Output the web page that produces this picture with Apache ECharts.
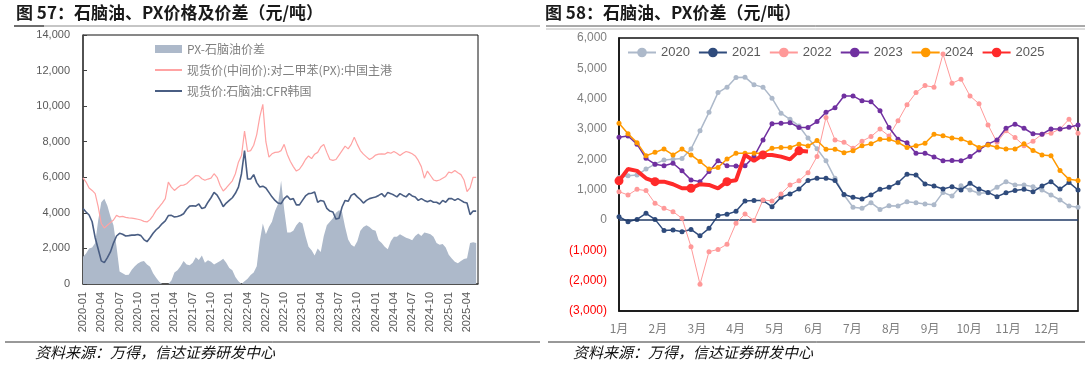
<!DOCTYPE html>
<html><head><meta charset="utf-8">
<script src="https://cdn.jsdelivr.net/npm/echarts@6/dist/echarts.min.js"></script>
<style>html,body{margin:0;padding:0;background:#fff}#c{width:1088px;height:366px}</style>
</head><body><div id="c"></div>
<script>
// ---------- Left chart: semi-monthly samples from 2020-01 (step = half month) ----------
const leftStartYear = 2020;
const leftStep = 0.5; // months per sample
const pxPrice = [5970,5730,5400,5260,5080,4330,3400,3150,3300,3450,
 3600,3860,3770,3800,3750,3720,3700,3680,3640,3600,
 3520,3490,3620,3850,4140,4330,4550,4800,5730,5450,
 5260,5410,5540,5560,5640,5800,5950,6100,6080,5920,
 5830,5900,5950,6200,6000,5540,5230,5400,5600,5800,
 6200,6850,7220,8600,7450,7500,7800,8400,9400,10100,
 8000,7130,7320,7400,7410,7500,7850,7300,6900,6600,
 6350,6450,6700,7000,7200,7050,7300,7400,7700,7850,
 7400,7000,6950,7000,7250,7500,7750,7600,7850,8250,
 7850,7500,7300,7150,7000,7100,7250,7300,7320,7300,
 7400,7350,7450,7350,7220,7350,7450,7400,7320,7200,
 6950,6600,5950,6350,6100,5850,5800,5850,5950,6050,
 6290,6250,6380,6250,6150,5850,5200,5400,6000,6000];
const naphthaPrice = [4240,4050,3880,3500,2600,1950,1300,1200,1480,1800,
 2300,2700,2850,2800,2700,2720,2750,2750,2780,2720,
 2500,2380,2600,2850,3050,3200,3400,3550,3850,3860,
 3770,3800,3850,3950,4200,4380,4400,4380,4500,4240,
 4300,4600,4850,5150,5000,4700,4350,4550,4700,4850,
 5100,5450,6200,7500,5900,5900,6150,5700,5450,5500,
 5400,5150,4900,4700,4550,4520,4800,4950,4750,4800,
 4450,4450,4700,4950,5080,5100,5170,4600,4700,4650,
 4250,4100,4050,3650,3700,4330,4700,4650,4980,5080,
 4900,4750,4550,4700,4800,4850,4890,4980,5080,4900,
 5150,5080,5000,4900,5080,4980,4900,5080,4950,4890,
 4700,4800,4700,4620,4700,4600,4600,4500,4700,4600,
 4800,4800,4700,4800,4700,4600,4550,3900,4100,4100];
const pxNaphthaSpread = [1530,1720,2000,2050,2300,3600,4600,4800,4400,3800,
 3300,2100,700,600,500,520,800,1000,1150,1250,
 1300,1100,970,600,350,130,0,0,0,200,
 650,780,1000,1300,1100,1060,1200,1500,1350,1600,
 1200,1340,1250,1100,1200,1300,1420,1200,900,780,
 400,150,0,150,300,500,650,1000,2400,3400,
 2800,3200,3500,4100,4500,5800,4200,2900,2900,3000,
 3300,3500,3400,2700,2100,1900,1600,2000,1800,2700,
 3300,3500,3700,4000,4150,4050,3200,2500,2200,2090,
 2400,3000,3200,3300,3200,3050,3000,2460,2300,2100,
 1950,2400,2650,2650,2800,2700,2600,2550,2460,2700,
 2840,2700,2900,2850,2800,2650,2300,2200,2250,2050,
 1650,1440,1250,1160,1300,1400,1450,2300,2350,2300];
const leftNames = ['PX-石脑油价差','现货价(中间价):对二甲苯(PX):中国主港','现货价:石脑油:CFR韩国'];

// ---------- Right chart: weekly spreads by year ----------
const weeks = Array.from({length:52},(_,i)=>'W'+(i+1));
const monthLabels = ['1月','2月','3月','4月','5月','6月','7月','8月','9月','10月','11月','12月'];
const yearNames = ['2020','2021','2022','2023','2024','2025'];
const s2020 = [1400,1460,1480,1680,1840,1980,2000,2030,2340,2940,3550,4200,4380,4700,4710,4455,4380,4015,3520,3320,3100,2700,2350,1950,1375,825,420,385,570,350,470,460,605,570,530,505,910,790,1130,990,880,900,1080,1265,1155,1155,1100,990,825,660,460,420];
const s2021 = [110,-55,20,220,20,-350,-330,-385,-310,-520,-275,145,190,285,630,640,640,440,750,860,1020,1300,1375,1375,1300,840,750,690,825,1010,1080,1230,1510,1485,1190,1120,1020,1100,990,1210,1020,910,770,900,970,1010,935,1120,1265,1020,1240,990];
const s2022 = [935,825,1010,970,550,385,275,55,-880,-2120,-1045,-970,-800,-110,200,-20,660,630,860,1155,1290,1560,2090,3380,2640,2560,2365,2600,2750,3000,2770,3270,3800,4200,4430,4380,5470,4510,4640,4090,3830,3135,2560,2940,2720,2450,2600,2830,2860,3000,3320,2860];
const s2023 = [2730,2770,2500,2035,1840,1790,1870,1620,1320,1265,1595,1950,1790,1780,1790,2090,2640,3170,3190,3210,3050,3050,3245,3550,3700,4090,4090,3930,3900,3600,3050,2660,2550,2200,2200,2080,1950,1960,1950,2090,2310,2500,2640,3025,3160,3025,2840,2830,3000,3000,3060,3135];
const s2024 = [3190,2840,2550,2120,2230,2340,2145,2340,2145,1925,1680,1730,2010,2200,2200,2200,2200,2365,2390,2390,2500,2440,2620,2330,2330,2220,2280,2450,2510,2660,2660,2560,2390,2450,2530,2830,2780,2700,2670,2550,2390,2475,2400,2340,2340,2510,2290,2145,2120,1630,1340,1300];
const s2025 = [1290,1680,1620,1375,1265,1265,1180,1045,1045,1180,1155,1045,1265,1310,2145,1950,2145,2145,2090,2000,2280,2255];

const fmt = v => Math.abs(v).toLocaleString('en-US');
const toXY = arr => arr.map((v,i)=>[i*leftStep, v]);
const CJK = '"Noto Sans CJK SC", sans-serif';
const NUM = '"Liberation Sans", Arial, sans-serif';
const LINE_ICON = 'path://M0,0 L40,0 L40,3 L0,3 Z';

const chart = echarts.init(document.getElementById('c'), null, {renderer:'canvas'});
const yearColors = ['#ADB9CA','#2F4B7C','#FF9999','#7030A0','#FF9900','#FF2A2A'];
const yearData = [s2020,s2021,s2022,s2023,s2024,s2025];

const rightSeries = yearNames.map((n,k)=>({
  name:n, type:'line', xAxisIndex:1, yAxisIndex:1, data:yearData[k],
  symbol:'circle', symbolSize: k===5?9:5, showSymbol:true,
  lineStyle:{color:yearColors[k], width: k===5?4:(k===2?1:1.5)},
  itemStyle:{color:yearColors[k]}, z: 3+k, animation:false,
  markLine: k===0 ? {silent:true, symbol:'none', label:{show:false},
    lineStyle:{color:'#1F3864', width:1.5, type:'solid'}, data:[{yAxis:0}], animation:false} : undefined
}));

chart.setOption({
  animation:false,
  textStyle:{fontFamily:NUM},
  grid:[
    {left:83, top:35, width:395, height:249, show:true, borderColor:'#111', borderWidth:1},
    {left:619, top:38, width:459, height:273, show:true, borderColor:'#111', borderWidth:1.5}
  ],
  legend:[
    {left:150, top:38, orient:'vertical', itemGap:9, itemWidth:27, itemHeight:8,
     textStyle:{color:'#808080', fontSize:12, fontFamily:CJK},
     data:[{name:leftNames[0], icon:'rect'}, {name:leftNames[1], icon:LINE_ICON}, {name:leftNames[2], icon:LINE_ICON}]},
    {left:622, top:41, orient:'horizontal', itemGap:8, itemWidth:28, itemHeight:12,
     textStyle:{color:'#595959', fontSize:13, fontFamily:NUM},
     data:yearNames}
  ],
  xAxis:[
    {gridIndex:0, type:'value', position:'bottom', min:0, max:64.8, interval:3,
     axisLine:{onZero:false, lineStyle:{color:'#404040', width:1.5}},
     axisTick:{show:true, inside:true, length:4, lineStyle:{color:'#404040'}},
     splitLine:{show:false},
     axisLabel:{rotate:90, fontSize:11, color:'#595959', margin:8, showMaxLabel:false,
       formatter:v=>{ if(!Number.isInteger(v)) return ''; const y=leftStartYear+Math.floor(v/12); const m=v%12+1; return y+'-'+(m<10?'0':'')+m; }}},
    {gridIndex:1, type:'category', position:'bottom', data:weeks, boundaryGap:false, show:false},
    {gridIndex:1, type:'value', position:'bottom', min:0, max:11.8, interval:1,
     axisLine:{onZero:false, lineStyle:{color:'#111', width:1.5}},
     axisTick:{show:false}, splitLine:{show:false},
     axisLabel:{fontSize:12, color:'#7F7F7F', margin:11, fontFamily:CJK, showMaxLabel:false,
       formatter:v=> Number.isInteger(v) && v<12 ? monthLabels[v] : ''}}
  ],
  yAxis:[
    {gridIndex:0, type:'value', min:0, max:14000, interval:2000,
     axisLine:{show:true, lineStyle:{color:'#404040', width:1.5}},
     axisTick:{show:true, inside:true, length:4, lineStyle:{color:'#404040'}},
     splitLine:{show:false},
     axisLabel:{fontSize:11, color:'#595959', margin:13, formatter:v=>fmt(v)}},
    {gridIndex:1, type:'value', min:-3000, max:6000, interval:1000,
     axisLine:{show:true, onZero:false, lineStyle:{color:'#111', width:1.5}},
     axisTick:{show:false}, splitLine:{show:false},
     axisLabel:{fontSize:12, margin:12,
       color:v=> Number(v)<0 ? '#FF0000' : '#7F7F7F',
       formatter:v=> v<0 ? '('+fmt(v)+')' : fmt(v)}}
  ],
  series:[
    {name:leftNames[0], type:'line', xAxisIndex:0, yAxisIndex:0, data:toXY(pxNaphthaSpread),
     symbol:'none', lineStyle:{width:0, color:'#ADB9CA'}, itemStyle:{color:'#ADB9CA'},
     areaStyle:{color:'#ADB9CA', opacity:1}, z:1},
    {name:leftNames[1], type:'line', xAxisIndex:0, yAxisIndex:0, data:toXY(pxPrice),
     symbol:'none', lineStyle:{width:1.2, color:'#FFA3A3'}, itemStyle:{color:'#FFA3A3'}, z:2},
    {name:leftNames[2], type:'line', xAxisIndex:0, yAxisIndex:0, data:toXY(naphthaPrice),
     symbol:'none', lineStyle:{width:1.6, color:'#4A5E83'}, itemStyle:{color:'#4A5E83'}, z:3},
    ...rightSeries
  ],
  graphic:[
    {type:'text', left:16, top:4, style:{text:'图 57：石脑油、PX价格及价差（元/吨）', font:'bold 17px '+CJK, fill:'#1a1a1a'}},
    {type:'text', left:545, top:4, style:{text:'图 58：石脑油、PX价差（元/吨）', font:'bold 17px '+CJK, fill:'#1a1a1a'}},
    {type:'line', shape:{x1:14,y1:26,x2:540,y2:26}, style:{stroke:'#8c8c8c', lineWidth:1}},
    {type:'line', shape:{x1:14,y1:26,x2:44,y2:26}, style:{stroke:'#333', lineWidth:1.2}},
    {type:'line', shape:{x1:546,y1:26,x2:1085,y2:26}, style:{stroke:'#555', lineWidth:1}},
    {type:'line', shape:{x1:546,y1:29,x2:1085,y2:29}, style:{stroke:'#bbb', lineWidth:1}},
    {type:'line', shape:{x1:5,y1:342,x2:540,y2:342}, style:{stroke:'#333', lineWidth:1}},
    {type:'line', shape:{x1:548,y1:342,x2:1085,y2:342}, style:{stroke:'#333', lineWidth:1}},
    {type:'text', left:35, top:345, style:{text:'资料来源：万得，信达证券研发中心', font:'italic 15px '+CJK, fill:'#111'}},
    {type:'text', left:573, top:345, style:{text:'资料来源：万得，信达证券研发中心', font:'italic 15px '+CJK, fill:'#111'}}
  ]
});
</script></body></html>
